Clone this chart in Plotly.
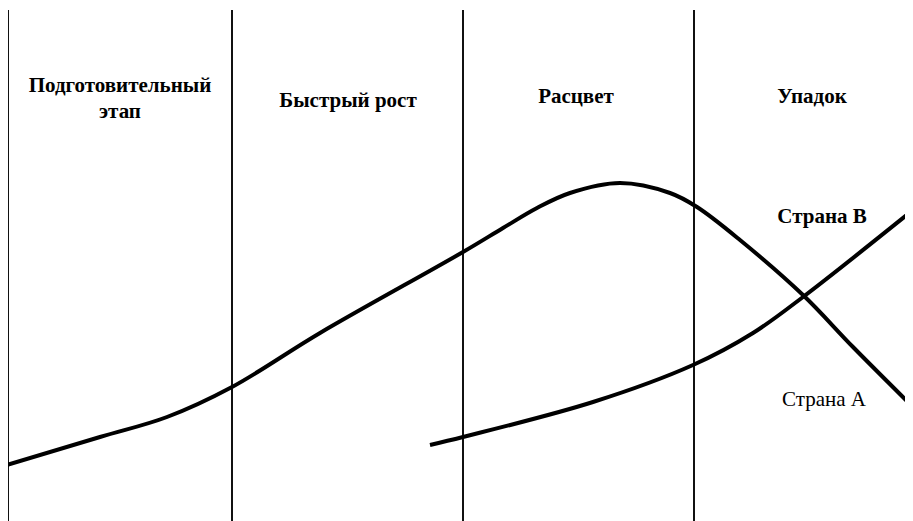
import plotly.graph_objects as go

# Границы этапов (время)
stage_bounds = [8, 232, 463, 694]
stage_top = 10
stage_bottom = 521

# Страна A: время / уровень (ось вниз, как на рисунке)
a_t = [0, 100, 167, 232, 320, 463, 503, 537, 570, 620, 670, 697, 740, 803, 853, 913]
a_v = [467, 437, 417, 387, 333, 252, 228, 208, 193, 183, 193, 207, 240, 295, 347, 407]

# Страна B
b_t = [430, 463, 593, 693, 753, 803, 913]
b_v = [445, 437, 402, 365, 333, 297, 210]

stage_names = ["Подготовительный", "этап", "Быстрый рост", "Расцвет", "Упадок"]
stage_label_t = [120, 120, 348, 576, 812]
stage_label_v = [87, 113, 102, 98, 98]

country_names = ["Страна B", "Страна A"]
country_label_t = [822, 824]
country_label_v = [218, 401]

fig = go.Figure()

# вертикальные линии этапов
vx, vy = [], []
for b in stage_bounds:
    vx += [b, b, None]
    vy += [stage_top, stage_bottom, None]
fig.add_trace(go.Scatter(x=vx, y=vy, mode="lines",
                         line=dict(color="#111111", width=2), hoverinfo="skip"))

fig.add_trace(go.Scatter(x=a_t, y=a_v, mode="lines", name="Страна A",
                         line=dict(color="#000000", width=4, shape="spline", smoothing=1.0)))
fig.add_trace(go.Scatter(x=b_t, y=b_v, mode="lines", name="Страна B",
                         line=dict(color="#000000", width=4, shape="spline", smoothing=1.0)))

fig.add_trace(go.Scatter(x=stage_label_t, y=stage_label_v, mode="text",
                         text=[f"<b>{s}</b>" for s in stage_names],
                         textfont=dict(family="Liberation Serif", size=21, color="#000000"),
                         hoverinfo="skip"))
fig.add_trace(go.Scatter(x=country_label_t[:1], y=country_label_v[:1], mode="text",
                         text=[f"<b>{s}</b>" for s in country_names[:1]],
                         textfont=dict(family="Liberation Serif", size=21, color="#000000"),
                         hoverinfo="skip"))
fig.add_trace(go.Scatter(x=country_label_t[1:], y=country_label_v[1:], mode="text",
                         text=country_names[1:],
                         textfont=dict(family="Liberation Serif", size=21, color="#000000"),
                         hoverinfo="skip"))

# страница имеет отступ 8px — компенсируем размером и диапазоном
fig.update_layout(
    width=905, height=513,
    paper_bgcolor="white", plot_bgcolor="white",
    showlegend=False,
    margin=dict(l=0, r=0, t=0, b=0),
    xaxis=dict(range=[8, 913], visible=False),
    yaxis=dict(range=[521, 8], visible=False),
)
fig.write_html("out.html")
